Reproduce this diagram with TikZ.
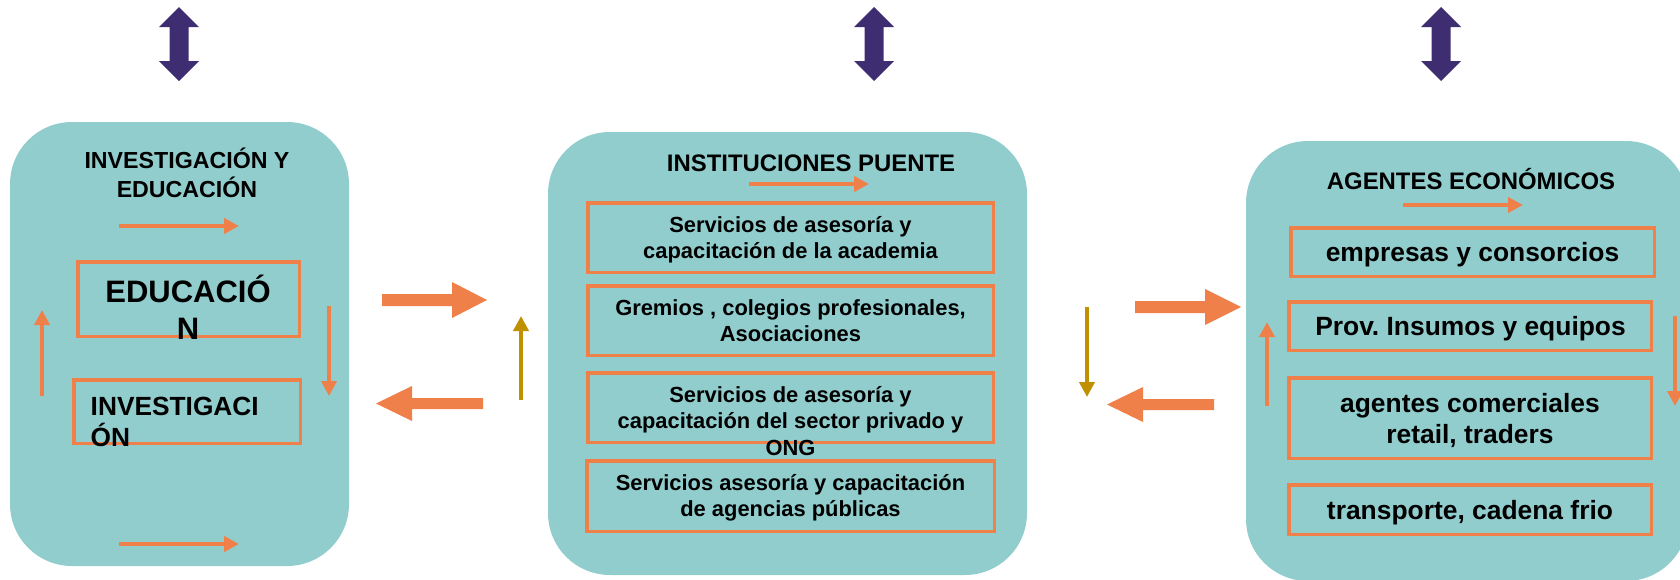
\documentclass[tikz,border=0pt]{standalone}
\usepackage{fontspec}
\setmainfont{Liberation Sans}
\usetikzlibrary{arrows.meta}
\frenchspacing
\definecolor{panelc}{RGB}{146,205,206}
\definecolor{orangec}{RGB}{240,128,74}
\definecolor{goldc}{RGB}{191,144,0}
\definecolor{purplec}{RGB}{63,45,114}
\tikzset{
  panel/.style={fill=panelc, rounded corners=62pt, inner sep=0pt},
  obox/.style={draw=orangec, line width=3.5pt, inner sep=0pt},
  lbl/.style={inner sep=0pt, anchor=base, text=black, font=\bfseries\fontsize{#1}{#1}\selectfont},
  lblw/.style={inner sep=0pt, anchor=base west, text=black, font=\bfseries\fontsize{#1}{#1}\selectfont},
  thinarrow/.style={draw=#1, line width=4pt, -{Triangle[length=15pt,width=15pt]}},
  bigarrow/.style={fill=orangec},
  dblarrow/.style={fill=purplec}
}
\begin{document}
\begin{tikzpicture}[x=1pt,y=-1pt]
\useasboundingbox (0,0) rectangle (1680,579);
\clip (0,0) rectangle (1680,579);

% panels
\node[panel, minimum width=339pt, minimum height=444pt] (P1) at (179.5,344) {};
\node[panel, minimum width=479pt, minimum height=443pt] (P2) at (787.5,353.5) {};
\node[panel, minimum width=442pt, minimum height=440pt] (P3) at (1467,361) {};

% purple double arrows
\foreach \cx in {179,874,1441}{
  \fill[dblarrow] (\cx,7) -- (\cx+20,27) -- (\cx+9.5,27) -- (\cx+9.5,61) -- (\cx+20,61)
     -- (\cx,81) -- (\cx-20,61) -- (\cx-9.5,61) -- (\cx-9.5,27) -- (\cx-20,27) -- cycle;
}

% ---------- left panel ----------
\node[lbl=23.2] (t1a) at (187,168) {INVESTIGACIÓN Y};
\node[lbl=23.2] (t1b) at (187,197) {EDUCACIÓN};
\node[obox, minimum width=221.5pt, minimum height=74.5pt] (edu) at (188.5,299) {};
\node[obox, minimum width=226.5pt, minimum height=63.5pt] (inv) at (187,411.5) {};
\node[lbl=31] (edua) at (188,302) {EDUCACIÓ};
\node[lbl=31] (edub) at (188,339) {N};
\node[lblw=26.3] (inva) at (90.5,415) {INVESTIGACI};
\node[lblw=26.3] (invb) at (90.5,446) {ÓN};

\coordinate (la1) at (119,226); \coordinate (la2) at (239,226);
\coordinate (lb1) at (119,544); \coordinate (lb2) at (239,544);
\coordinate (ld1) at (329,306); \coordinate (ld2) at (329,396);
\coordinate (lu1) at (42,396);  \coordinate (lu2) at (42,310);
\draw[thinarrow=orangec] (la1) -- (la2);
\draw[thinarrow=orangec] (lb1) -- (lb2);
\draw[thinarrow=orangec] (ld1) -- (ld2);
\draw[thinarrow=orangec] (lu1) -- (lu2);

% big arrows between left and middle
\fill[bigarrow] (382,294) -- (452,294) -- (452,282) -- (487,300) -- (452,318) -- (452,306) -- (382,306) -- cycle;
\fill[bigarrow] (483,398) -- (412,398) -- (412,386) -- (376,403.5) -- (412,421) -- (412,409) -- (483,409) -- cycle;
\coordinate (g1a) at (521,400); \coordinate (g1b) at (521,316);
\draw[thinarrow=goldc] (g1a) -- (g1b);

% ---------- middle panel ----------
\node[lbl=23.9] (t2) at (811,171) {INSTITUCIONES PUENTE};
\coordinate (ma1) at (749,184); \coordinate (ma2) at (869,184);
\draw[thinarrow=orangec] (ma1) -- (ma2);
\node[obox, minimum width=405.5pt, minimum height=69.5pt] (m1) at (790.5,237.5) {};
\node[obox, minimum width=405.5pt, minimum height=69.5pt] (m2) at (790.5,320.5) {};
\node[obox, minimum width=405.5pt, minimum height=69.5pt] (m3) at (790.5,407.5) {};
\node[obox, minimum width=407.5pt, minimum height=70.5pt] (m4) at (790.5,496) {};
\node[lbl=21.9] (m1a) at (790.5,232) {Servicios de asesoría y};
\node[lbl=21.9] (m1b) at (790.5,258) {capacitación de la academia};
\node[lbl=21.9] (m2a) at (790.5,315) {Gremios , colegios profesionales,};
\node[lbl=21.9] (m2b) at (790.5,341) {Asociaciones};
\node[lbl=21.9] (m3a) at (790.5,402) {Servicios de asesoría y};
\node[lbl=21.9] (m3b) at (790.5,428) {capacitación del sector privado y};
\node[lbl=21.9] (m3c) at (790.5,455) {ONG};
\node[lbl=21.9] (m4a) at (790.5,490) {Servicios asesoría y capacitación};
\node[lbl=21.9] (m4b) at (790.5,516) {de agencias públicas};

% big arrows between middle and right
\coordinate (g2a) at (1087,307); \coordinate (g2b) at (1087,397);
\draw[thinarrow=goldc] (g2a) -- (g2b);
\fill[bigarrow] (1135,301) -- (1205,301) -- (1205,289) -- (1241,307) -- (1205,325) -- (1205,313) -- (1135,313) -- cycle;
\fill[bigarrow] (1214,399) -- (1143,399) -- (1143,387) -- (1107,404.5) -- (1143,422) -- (1143,410) -- (1214,410) -- cycle;

% ---------- right panel ----------
\node[lbl=23.9] (t3) at (1471,189) {AGENTES ECONÓMICOS};
\coordinate (ra1) at (1403,205); \coordinate (ra2) at (1523,205);
\draw[thinarrow=orangec] (ra1) -- (ra2);
\node[obox, minimum width=363.5pt, minimum height=48.5pt] (r1) at (1472.5,252) {};
\node[obox, minimum width=362.5pt, minimum height=48.5pt] (r2) at (1470,326) {};
\node[obox, minimum width=362.5pt, minimum height=80.5pt] (r3) at (1470,418) {};
\node[obox, minimum width=362.5pt, minimum height=49.5pt] (r4) at (1470,509.5) {};
\node[lbl=26.4] (r1a) at (1472.5,261) {empresas y consorcios};
\node[lbl=26.4] (r2a) at (1470.5,335) {Prov. Insumos y equipos};
\node[lbl=26.4] (r3a) at (1470,412) {agentes comerciales};
\node[lbl=26.4] (r3b) at (1470,443) {retail, traders};
\node[lbl=26.4] (r4a) at (1470,519) {transporte, cadena frio};
\coordinate (ru1) at (1267,406); \coordinate (ru2) at (1267,322);
\coordinate (rd1) at (1675,316); \coordinate (rd2) at (1675,406);
\draw[thinarrow=orangec] (ru1) -- (ru2);
\draw[thinarrow=orangec] (rd1) -- (rd2);
\end{tikzpicture}
\end{document}
